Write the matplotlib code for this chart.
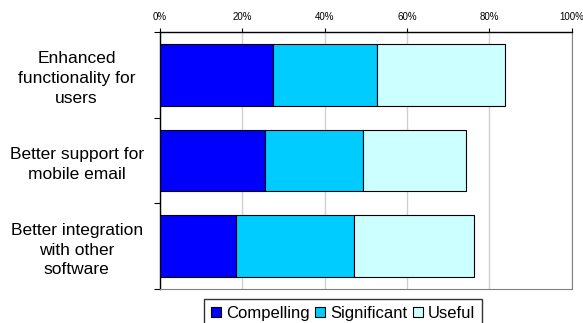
import numpy as np
import matplotlib.pyplot as plt
from matplotlib.ticker import PercentFormatter

plt.rcParams['font.family'] = ['Liberation Sans', 'DejaVu Sans']

categories = ['Enhanced\nfunctionality for\nusers',
              'Better support for\nmobile email',
              'Better integration\nwith other\nsoftware']
series = ['Compelling', 'Significant', 'Useful']
compelling = [27.4, 25.4, 18.4]
significant = [25.3, 23.9, 28.8]
useful = [31.1, 25.0, 29.1]
colors = ['#0000ff', '#00ccff', '#ccffff']

fig = plt.figure(figsize=(5.83, 3.23), dpi=100)
ax = fig.add_axes([160 / 583, 1 - 289 / 323, 411.5 / 583, 257 / 323])

y = np.arange(len(categories))
left = np.zeros(len(categories))
for name, vals, c in zip(series, [compelling, significant, useful], colors):
    ax.barh(y, vals, left=left, height=0.72, color=c, edgecolor='black',
            linewidth=0.8, label=name, zorder=3)
    left += np.array(vals)

ax.set_xlim(0, 100)
ax.set_ylim(len(categories) - 0.5, -0.5)
ax.xaxis.tick_top()
ax.set_xticks([0, 20, 40, 60, 80, 100])
ax.xaxis.set_major_formatter(PercentFormatter(decimals=0))
ax.tick_params(axis='x', labelsize=7, length=3, width=0.8, pad=4.5)
ax.grid(axis='x', color='#d0d0d0', linewidth=1, zorder=0)

ax.set_yticks(y)
ax.set_yticklabels(categories, ha='center', fontsize=12.5, linespacing=1.4)
ax.tick_params(axis='y', length=0, pad=60)
ax.set_yticks(np.arange(-0.5, len(categories)), minor=True)
ax.tick_params(axis='y', which='minor', length=4, width=0.8)

ax.spines['left'].set_linewidth(1)
ax.spines['top'].set_linewidth(1)
for s in ['right', 'bottom']:
    ax.spines[s].set_color('#808080')
    ax.spines[s].set_linewidth(0.8)

fig.legend(loc='upper center', bbox_to_anchor=(343 / 583, 1 - 299 / 323), ncol=3,
           fontsize=12, frameon=True, fancybox=False, edgecolor='black',
           handlelength=0.6, handleheight=0.6, handletextpad=0.3,
           columnspacing=0.35, borderpad=0.4, borderaxespad=0)

fig.savefig('out.png', dpi=100)
